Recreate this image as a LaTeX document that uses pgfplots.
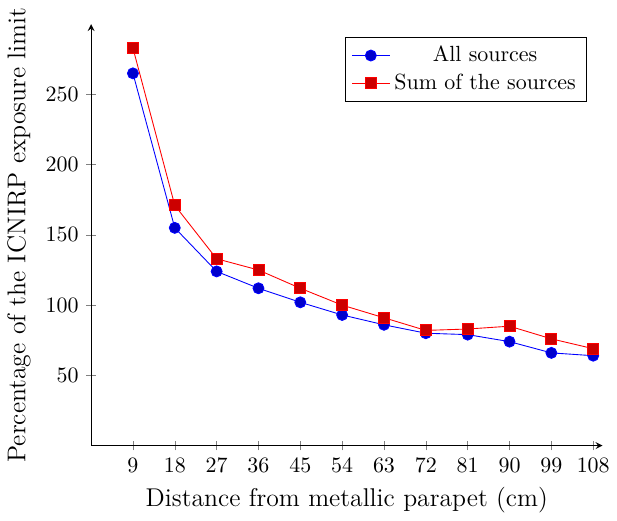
\documentclass[border=0pt]{standalone}
\usepackage{pgfplots}
\pgfplotsset{compat=1.18}

\begin{document}
\begin{tikzpicture}
  \begin{axis}[
    scale only axis,
    width=233pt, height=192pt,
    axis x line=bottom,
    axis y line=left,
    xmin=0, xmax=110,
    ymin=0, ymax=300,
    xtick={9,18,...,108},
    ytick={50,100,...,250},
    mark size=2.5pt,
    label style={font=\fontsize{11.7}{14}\selectfont},
    xlabel={Distance from metallic parapet (cm)},
    ylabel={Percentage of the ICNIRP exposure limit},
    legend pos=north east,
    legend cell align=center,
    legend style={cells={anchor=center}},
    ]
    \addplot coordinates {
      (9,265) (18,155) (27,124) (36,112) (45,102) (54,93)
      (63,86) (72,80) (81,79) (90,74) (99,66) (108,64)
    };
    \addlegendentry{All sources}
    \addplot coordinates {
      (9,283) (18,171) (27,133) (36,125) (45,112) (54,100)
      (63,91) (72,82) (81,83) (90,85) (99,76) (108,69)
    };
    \addlegendentry{Sum of the sources}
  \end{axis}
\end{tikzpicture}
\end{document}
